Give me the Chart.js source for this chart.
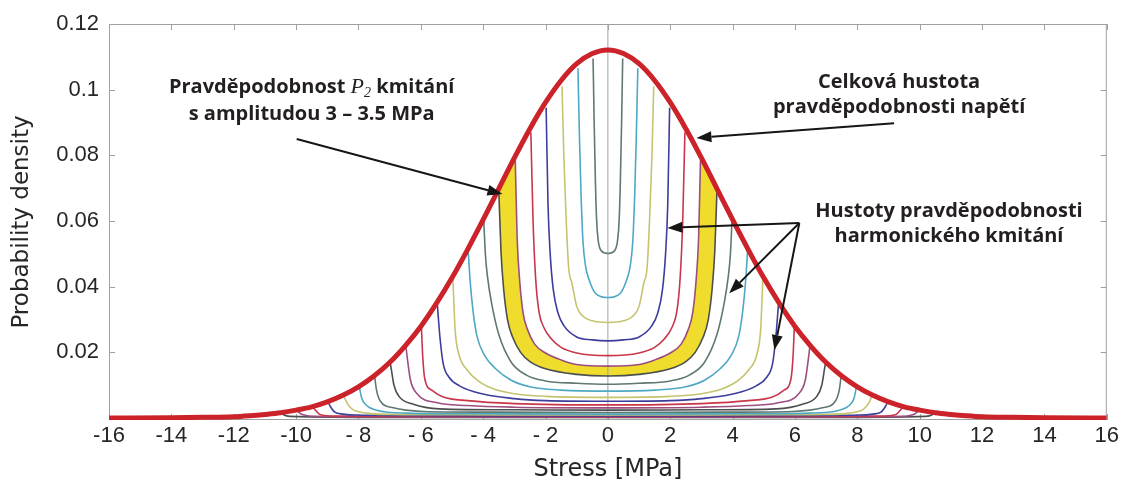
<!DOCTYPE html>
<html>
<head>
<meta charset="utf-8">
<script src="https://cdn.jsdelivr.net/npm/chart.js@4.4.1/dist/chart.umd.min.js"></script>
<style>
  html, body { margin: 0; padding: 0; background: #fff; }
</style>
</head>
<body>
<canvas id="canvas" width="1122" height="485"></canvas>
<script>
// ticks
const xTicks = [-16, -14, -12, -10, -8, -6, -4, -2, 0, 2, 4, 6, 8, 10, 12, 14, 16];
const xTickLabels = ['-16', '-14', '-12', '-10', '- 8', '- 6', '- 4', '- 2', '0', '2', '4', '6', '8', '10', '12', '14', '16'];
const yTicks = [0.02, 0.04, 0.06, 0.08, 0.1, 0.12];

// celková hustota pravděpodobnosti (pravá polovina, x >= 0)
const envX = [0, 0.5, 1, 1.5, 2, 2.5, 3, 3.5, 4, 4.5, 5, 5.5, 6, 6.5, 7, 7.5, 8, 8.5, 9, 9.5, 10, 10.5, 11, 11.5, 12, 13, 14, 16];
const envY = [0.1121, 0.1110, 0.1079, 0.1028, 0.0961, 0.0881, 0.0792, 0.0698, 0.0604, 0.0513, 0.0427, 0.0349, 0.0279, 0.0220,
              0.0169, 0.0128, 0.0095, 0.0069, 0.0049, 0.0034, 0.0024, 0.0016, 0.0011, 0.0007, 0.0004, 0.0002, 0.0001, 0];

// hustoty harmonického kmitání pro amplitudy 0.5 .. 10.5 MPa (pravá polovina)
const amplitudes = [0.5, 1, 1.5, 2, 2.5, 3, 3.5, 4, 4.5, 5, 5.5, 6, 6.5, 7, 7.5, 8, 8.5, 9, 9.5, 10, 10.5];
const curveX = [
  [0, 0.22, 0.31, 0.36, 0.40, 0.44, 0.475],
  [0, 0.4, 0.6, 0.72, 0.8, 0.86, 0.91, 0.96],
  [0, 0.5, 0.8, 1.0, 1.15, 1.26, 1.34, 1.41, 1.47],
  [0, 0.5, 1.0, 1.4, 1.6, 1.75, 1.85, 1.92, 1.98],
  [0, 1.0, 1.5, 1.8, 2.05, 2.22, 2.32, 2.4, 2.47],
  [0, 1.0, 1.5, 2.0, 2.35, 2.58, 2.72, 2.83, 2.91, 2.97],
  [0, 1.0, 2.0, 2.5, 2.8, 3.05, 3.22, 3.34, 3.43, 3.5],
  [0, 1.0, 2.0, 2.6, 3.1, 3.5, 3.73, 3.86, 3.93, 3.98],
  [0, 1.5, 2.5, 3.1, 3.6, 3.95, 4.2, 4.33, 4.42, 4.48],
  [0, 2, 3, 3.7, 4.16, 4.5, 4.78, 4.9, 4.97],
  [0, 2, 3, 4, 4.76, 5.1, 5.28, 5.38, 5.47],
  [0, 3, 4.5, 5.28, 5.65, 5.87, 5.94, 5.98],
  [0, 3, 4.5, 5.5, 6.1, 6.33, 6.43, 6.48],
  [0, 3, 5.4, 6.24, 6.7, 6.86, 6.94, 6.98],
  [0, 4, 5.9, 6.88, 7.3, 7.42, 7.48],
  [0, 4, 6.46, 7.42, 7.78, 7.9, 7.97],
  [0, 5, 7.0, 7.74, 8.2, 8.37, 8.47],
  [0, 5, 8.06, 8.5, 8.76, 8.9, 8.97],
  [0, 6, 8.7, 9.24, 9.36, 9.46],
  [0, 6, 9.4, 9.75, 9.88, 9.96],
  [0, 7, 10.2, 10.4, 10.47]
];
const curveY = [
  [0.0501, 0.0510, 0.0540, 0.0600, 0.0720, 0.0900, 0.1095],
  [0.0367, 0.0380, 0.0420, 0.0465, 0.0540, 0.0680, 0.0850, 0.1065],
  [0.0291, 0.0296, 0.0310, 0.0340, 0.0410, 0.0460, 0.0610, 0.0790, 0.1010],
  [0.0235, 0.0238, 0.0247, 0.0280, 0.0320, 0.0390, 0.0500, 0.0650, 0.0945],
  [0.0190, 0.0198, 0.0215, 0.0240, 0.0275, 0.0330, 0.0430, 0.0600, 0.0870],
  [0.0158, 0.0163, 0.0177, 0.0198, 0.0225, 0.0270, 0.0320, 0.0420, 0.0550, 0.0785],
  [0.0128, 0.0133, 0.0150, 0.0172, 0.0200, 0.0245, 0.0300, 0.0390, 0.0510, 0.0698],
  [0.0103, 0.0106, 0.0113, 0.0130, 0.0170, 0.0255, 0.0350, 0.0430, 0.0500, 0.0600],
  [0.0082, 0.0085, 0.0095, 0.0115, 0.0150, 0.0190, 0.0250, 0.0330, 0.0420, 0.0510],
  [0.0063, 0.0066, 0.0074, 0.0090, 0.0113, 0.0145, 0.0195, 0.0270, 0.0425],
  [0.0051, 0.0053, 0.0059, 0.0073, 0.0098, 0.0125, 0.0165, 0.0240, 0.0345],
  [0.0040, 0.0044, 0.0053, 0.0064, 0.0085, 0.0118, 0.0190, 0.0278],
  [0.0031, 0.0033, 0.0038, 0.0047, 0.0072, 0.0115, 0.0180, 0.0220],
  [0.0024, 0.0025, 0.0028, 0.0042, 0.0066, 0.0100, 0.0145, 0.0168],
  [0.0017, 0.0018, 0.0020, 0.0031, 0.0052, 0.0085, 0.0127],
  [0.0012, 0.0013, 0.0015, 0.0024, 0.0042, 0.0062, 0.0094],
  [0.0009, 0.0010, 0.0011, 0.0015, 0.0027, 0.0046, 0.0068],
  [0.0006, 0.0007, 0.0009, 0.0012, 0.0018, 0.0035, 0.0048],
  [0.0004, 0.0005, 0.0006, 0.0011, 0.0022, 0.0033],
  [0.0003, 0.0003, 0.0005, 0.0009, 0.0015, 0.0023],
  [0.0002, 0.0002, 0.0005, 0.0010, 0.0016]
];
// zvýrazněné pásmo P2: amplitudy 3 – 3.5 MPa
const bandFrom = 3;
const bandTo = 3.5;
// svislá čára v nule
const zeroLine = [[0, -0.0006], [0, 0.12]];

// šipky popisků [x1, y1, x2 (hrot), y2]
const arrows = [
  [-9.98, 0.0850, -3.38, 0.0682],
  [9.18, 0.0898, 2.84, 0.0853],
  [6.14, 0.0594, 1.91, 0.0579],
  [6.14, 0.0594, 3.89, 0.0380],
  [6.14, 0.0594, 5.34, 0.0207]
];

const lineColors = ['#5f7872', '#4ea8c4', '#c5c36e', '#3d3d9b', '#c9364a', '#9c4f7e', '#4b4f4f'];
const boldFont = 'bold 20px "Open Sans"';
const notes = [
  { x: -9.5, y: 0.0990, parts: [
      { text: 'Pravděpodobnost ', font: boldFont },
      { text: 'P', font: 'italic 22px "Liberation Serif"' },
      { text: '2', font: 'italic 14px "Liberation Serif"', dy: 4 },
      { text: ' kmitání', font: boldFont }] },
  { x: -9.5, y: 0.0907, parts: [{ text: 's amplitudou 3 – 3.5 MPa', font: boldFont }] },
  { x: 9.34, y: 0.1004, parts: [{ text: 'Celková hustota', font: boldFont }] },
  { x: 9.34, y: 0.0928, parts: [{ text: 'pravděpodobnosti napětí', font: boldFont }] },
  { x: 10.94, y: 0.0613, parts: [{ text: 'Hustoty pravděpodobnosti', font: boldFont }] },
  { x: 10.94, y: 0.0537, parts: [{ text: 'harmonického kmitání', font: boldFont }] }
];

// zrcadlení pravé poloviny na celou osu
function mirror(xs, ys) {
  const pts = [];
  for (let i = xs.length - 1; i > 0; i--) pts.push({ x: -xs[i], y: ys[i] });
  for (let i = 0; i < xs.length; i++) pts.push({ x: xs[i], y: ys[i] });
  return pts;
}

const inner = amplitudes.indexOf(bandFrom);
const outer = amplitudes.indexOf(bandTo);

// horní hrana žlutého pásma: vnitřní křivka a dál po obálce až do 3.5
const bandX = curveX[inner].slice();
const bandY = curveY[inner].slice();
envX.forEach((v, i) => {
  if (v > bandX[bandX.length - 1] && v <= bandTo) { bandX.push(v); bandY.push(envY[i]); }
});

const datasets = [];
datasets.push({
  data: mirror(envX, envY),
  borderColor: '#cc2229',
  borderWidth: 5
});
amplitudes.forEach((a, i) => {
  datasets.push({
    data: mirror(curveX[i], curveY[i]),
    borderColor: lineColors[i % lineColors.length],
    borderWidth: 1.6
  });
});
datasets.push({
  data: mirror(bandX, bandY),
  borderWidth: 0,
  backgroundColor: '#efdc2c',
  fill: { target: 1 + outer }
});
datasets.push({
  data: zeroLine.map(p => ({ x: p[0], y: p[1] })),
  borderColor: '#a3a3a3',
  borderWidth: 1,
  cubicInterpolationMode: 'default',
  tension: 0
});

// rámeček s tiky dovnitř jako v MATLABu
const frame = {
  id: 'frame',
  beforeDatasetsDraw(chart) {
    const { ctx, chartArea: a, scales: { x, y } } = chart;
    ctx.save();
    ctx.strokeStyle = '#a0a0a0';
    ctx.lineWidth = 1;
    ctx.strokeRect(a.left + 0.5, a.top + 0.5, a.width - 1, a.height - 1);
    ctx.beginPath();
    xTicks.forEach(v => {
      const p = Math.round(x.getPixelForValue(v)) + 0.5;
      ctx.moveTo(p, a.bottom); ctx.lineTo(p, a.bottom - 6);
      ctx.moveTo(p, a.top); ctx.lineTo(p, a.top + 6);
    });
    yTicks.forEach(v => {
      const p = Math.round(y.getPixelForValue(v)) + 0.5;
      ctx.moveTo(a.left, p); ctx.lineTo(a.left + 6, p);
      ctx.moveTo(a.right, p); ctx.lineTo(a.right - 6, p);
    });
    ctx.stroke();
    ctx.restore();
  }
};

function drawArrow(ctx, x1, y1, x2, y2) {
  const ang = Math.atan2(y2 - y1, x2 - x1);
  const len = 15, half = 5.5;
  const bx = x2 - len * Math.cos(ang), by = y2 - len * Math.sin(ang);
  ctx.beginPath();
  ctx.moveTo(x1, y1);
  ctx.lineTo(bx, by);
  ctx.stroke();
  ctx.beginPath();
  ctx.moveTo(x2, y2);
  ctx.lineTo(bx + half * Math.sin(ang), by - half * Math.cos(ang));
  ctx.lineTo(bx - half * Math.sin(ang), by + half * Math.cos(ang));
  ctx.closePath();
  ctx.fill();
}

const annotations = {
  id: 'annotations',
  afterDatasetsDraw(chart) {
    const { ctx, scales: { x, y } } = chart;
    ctx.save();
    ctx.strokeStyle = '#161616';
    ctx.fillStyle = '#161616';
    ctx.lineWidth = 2;
    arrows.forEach(([x1, y1, x2, y2]) => {
      drawArrow(ctx, x.getPixelForValue(x1), y.getPixelForValue(y1), x.getPixelForValue(x2), y.getPixelForValue(y2));
    });
    ctx.fillStyle = '#231f20';
    ctx.textAlign = 'left';
    ctx.textBaseline = 'alphabetic';
    notes.forEach(n => {
      let w = 0;
      n.parts.forEach(p => { ctx.font = p.font; w += ctx.measureText(p.text).width; });
      let px = x.getPixelForValue(n.x) - w / 2;
      const py = y.getPixelForValue(n.y);
      n.parts.forEach(p => {
        ctx.font = p.font;
        ctx.fillText(p.text, px, py + (p.dy || 0));
        px += ctx.measureText(p.text).width;
      });
    });
    ctx.restore();
  }
};

const tickFont = { family: '"Liberation Sans", Arial, sans-serif', size: 22 };
const titleFont = { family: '"DejaVu Sans", sans-serif', size: 24 };

new Chart(document.getElementById('canvas').getContext('2d'), {
  type: 'line',
  data: { datasets },
  options: {
    responsive: false,
    animation: false,
    layout: { padding: { left: 0, right: 14, top: 24, bottom: 0 } },
    elements: {
      point: { radius: 0 },
      line: { cubicInterpolationMode: 'monotone', fill: false }
    },
    plugins: {
      legend: { display: false },
      tooltip: { enabled: false },
      filler: { drawTime: 'beforeDatasetsDraw' }
    },
    scales: {
      x: {
        type: 'linear',
        min: -16,
        max: 16,
        afterBuildTicks: s => { s.ticks = xTicks.map(v => ({ value: v })); },
        afterFit: s => { s.height = 65; },
        grid: { display: false, drawTicks: false },
        border: { display: false },
        ticks: {
          autoSkip: false,
          maxRotation: 0,
          padding: 3,
          color: '#262626',
          font: tickFont,
          callback: (v, i) => xTickLabels[i]
        },
        title: { display: true, text: 'Stress [MPa]', color: '#262626', font: titleFont, padding: { top: 0, bottom: 1 } }
      },
      y: {
        type: 'linear',
        min: -0.0006,
        max: 0.12,
        afterBuildTicks: s => { s.ticks = yTicks.map(v => ({ value: v })); },
        afterFit: s => { s.width = 109; },
        grid: { display: false, drawTicks: false },
        border: { display: false },
        ticks: {
          autoSkip: false,
          padding: 10,
          color: '#262626',
          font: tickFont,
          callback: v => String(v)
        },
        title: { display: true, text: 'Probability density', color: '#262626', font: { family: '"DejaVu Sans", sans-serif', size: 23 }, padding: { top: 8, bottom: 0 } }
      }
    }
  },
  plugins: [frame, annotations]
});
</script>
</body>
</html>
